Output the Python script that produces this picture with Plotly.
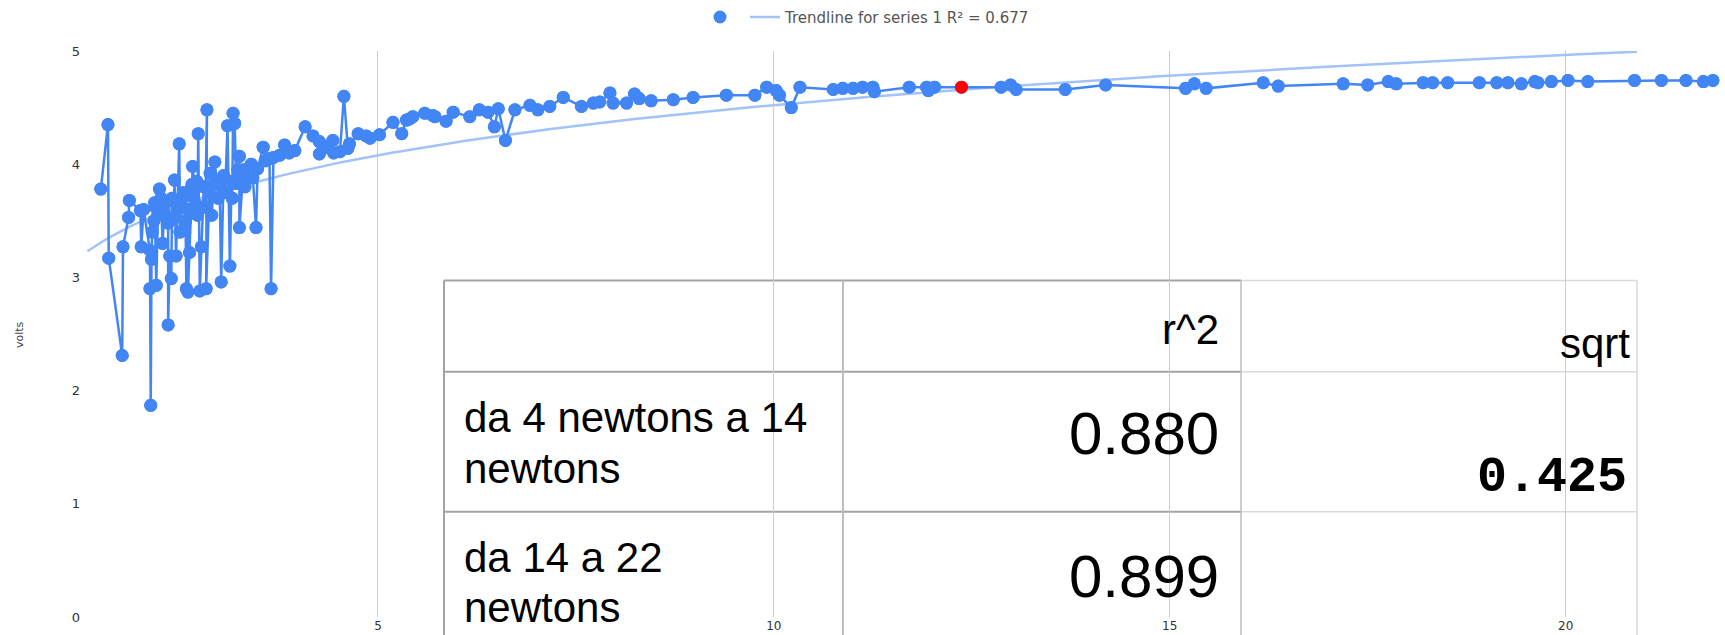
import numpy as np
import plotly.graph_objects as go

# ---------------- data ----------------
force_newtons = [
    1.50, 1.59, 1.60, 1.77, 1.78, 1.85, 1.86, 2.00, 2.01, 2.04,
    2.12, 2.13, 2.14, 2.12, 2.15, 2.17, 2.19, 2.18, 2.20, 2.22,
    2.24, 2.25, 2.26, 2.28, 2.30, 2.32, 2.35, 2.35, 2.37, 2.39,
    2.40, 2.42, 2.43, 2.45, 2.49, 2.50, 2.52, 2.53, 2.55, 2.57,
    2.58, 2.60, 2.60, 2.62, 2.64, 2.65, 2.66, 2.70, 2.71, 2.72,
    2.73, 2.75, 2.77, 2.80, 2.82, 2.84, 2.83, 2.87, 2.88, 2.90,
    2.92, 2.94, 2.98, 3.00, 3.02, 3.05, 3.07, 3.10, 3.13, 3.15,
    3.16, 3.17, 3.19, 3.21, 3.23, 3.25, 3.25, 3.30, 3.32, 3.34,
    3.40, 3.42, 3.46, 3.48, 3.55, 3.58, 3.63, 3.65, 3.68, 3.76,
    3.82, 3.88, 3.95,
    4.08, 4.18, 4.26, 4.26, 4.35, 4.43, 4.44, 4.52, 4.57, 4.62,
    4.64, 4.75, 4.85, 4.90, 5.02, 5.19, 5.30, 5.36, 5.40, 5.44,
    5.59, 5.69, 5.72, 5.86, 5.95, 6.16, 6.28, 6.39, 6.47, 6.52,
    6.61, 6.73, 6.92, 7.02, 7.17, 7.34, 7.57, 7.72, 7.80, 7.93,
    7.97, 8.14, 8.24, 8.30, 8.45, 8.73, 8.98, 9.40, 9.76, 9.91,
    10.03, 10.07, 10.22, 10.33, 10.75, 10.87, 11.00, 11.12, 11.25, 11.27,
    11.71, 11.93, 11.95, 12.03, 12.37, 12.87, 12.99, 13.06, 13.68, 14.19,
    15.20, 15.31, 15.46, 16.18, 16.37, 17.19, 17.50, 17.76, 17.86, 18.20,
    18.32, 18.51, 18.91, 19.13, 19.27, 19.44, 19.61, 19.65, 19.82, 20.03,
    20.28, 20.87, 21.21, 21.52, 21.74, 21.86,
]
volts = [
    3.78, 4.35, 3.17, 2.31, 3.27, 3.53, 3.68, 3.59, 3.27, 3.60,
    3.24, 1.87, 3.16, 2.90, 3.40, 3.50, 3.62, 3.66, 2.93, 3.55,
    3.78, 3.62, 3.70, 3.30, 3.58, 3.66, 3.48, 2.58, 3.19, 2.99,
    3.70, 3.52, 3.86, 3.19, 4.18, 3.40, 3.62, 3.70, 3.75, 3.50,
    2.90, 3.60, 2.87, 3.22, 3.72, 3.82, 3.98, 3.65, 3.85, 3.55,
    4.27, 2.88, 3.27, 3.80, 3.62, 4.48, 2.90, 3.75, 3.92, 3.55,
    3.82, 4.02, 3.70, 3.85, 2.96, 3.90, 3.75, 4.34, 3.10, 3.85,
    3.70, 4.45, 4.36, 3.83, 3.95, 4.07, 3.44, 3.95, 3.80, 3.89,
    4.00, 3.88, 3.44, 3.96, 4.15, 4.03, 4.05, 2.90, 4.06, 4.08,
    4.17, 4.10, 4.12,
    4.33, 4.25, 4.20, 4.09, 4.15, 4.21, 4.10, 4.11, 4.60, 4.14,
    4.18, 4.27, 4.25, 4.23, 4.26, 4.37, 4.27, 4.39, 4.40, 4.42,
    4.45, 4.43, 4.42, 4.38, 4.46, 4.42, 4.48, 4.46, 4.33, 4.49,
    4.21, 4.48, 4.52, 4.48, 4.51, 4.59, 4.51, 4.54, 4.55, 4.63,
    4.54, 4.54, 4.62, 4.58, 4.56, 4.57, 4.59, 4.61, 4.61, 4.68,
    4.65, 4.61, 4.50, 4.68, 4.66, 4.67, 4.67, 4.68, 4.68, 4.64,
    4.68, 4.68, 4.65, 4.68, 4.68, 4.68, 4.70, 4.66, 4.66, 4.70,
    4.67, 4.71, 4.67, 4.72, 4.69, 4.71, 4.70, 4.73, 4.71, 4.72,
    4.72, 4.72, 4.72, 4.72, 4.72, 4.71, 4.73, 4.72, 4.73, 4.74,
    4.73, 4.74, 4.74, 4.74, 4.73, 4.74,
]
highlight_newtons = 12.37          # the single point shown in red
trend_x_range = [1.33, 20.9]       # extent of the drawn trendline
trend_label = "Trendline for series 1 R² = 0.677"
x_ticks = [5, 10, 15, 20]
y_ticks = [0, 1, 2, 3, 4, 5]
y_title = "volts"

table_header = ["", "r^2", "sqrt"]
table_row_labels = [["da 4 newtons a 14", "newtons"], ["da 14 a 22", "newtons"]]
table_r2 = ["0.880", "0.899"]
table_sqrt = ["0.425", ""]

# ---------------- geometry / style ----------------
W, H = 1725, 635
L, T, R, B = 85, 47, 1, 18
PW, PH = W - L - R, H - T - B
BLUE = "#4285f4"
TREND = "#a3c2f7"


def fx(p):  # pixel x -> paper
    return (p - L) / PW


def fy(p):  # pixel y -> paper
    return (T + PH - p) / PH


x = np.array(force_newtons)
y = np.array(volts)
slope, intercept = np.polyfit(np.log(x), y, 1)
tx = np.linspace(trend_x_range[0], trend_x_range[1], 300)
ty = intercept + slope * np.log(tx)

colors = ["#ff0000" if abs(v - highlight_newtons) < 1e-9 else BLUE for v in force_newtons]

fig = go.Figure()
fig.add_trace(go.Scatter(x=x, y=y, mode="markers", name="",
                         marker=dict(size=13, color=BLUE), showlegend=True))
fig.add_trace(go.Scatter(x=tx, y=ty, mode="lines", name=trend_label,
                         line=dict(color=TREND, width=2.5), hoverinfo="skip"))
fig.add_trace(go.Scatter(x=x, y=y, mode="lines+markers", showlegend=False,
                         line=dict(color=BLUE, width=2.5),
                         marker=dict(size=13, color=colors)))

# table overlay
tx_px = [444, 843, 1241, 1637]
ty_px = [278, 370, 511]
bottom_px = 645
dark, mid, light = "#a3a3a3", "#bdbdbd", "#d9d9d9"
shapes = [dict(type="rect", xref="paper", yref="paper", layer="below",
               x0=fx(tx_px[0]), x1=fx(tx_px[3]), y0=fy(bottom_px), y1=fy(ty_px[0]),
               fillcolor="white", line=dict(width=0))]
for yy in ty_px:
    shapes.append(dict(type="line", xref="paper", yref="paper", layer="below",
                       x0=fx(tx_px[0]), x1=fx(tx_px[2]), y0=fy(yy), y1=fy(yy),
                       line=dict(color=dark, width=2)))
    shapes.append(dict(type="line", xref="paper", yref="paper", layer="below",
                       x0=fx(tx_px[2]), x1=fx(tx_px[3]), y0=fy(yy), y1=fy(yy),
                       line=dict(color=light, width=1.5)))
for xx, col, wd in zip(tx_px, [dark, mid, mid, light], [2, 2, 1.5, 1.5]):
    shapes.append(dict(type="line", xref="paper", yref="paper", layer="below",
                       x0=fx(xx), x1=fx(xx), y0=fy(bottom_px), y1=fy(ty_px[0]),
                       line=dict(color=col, width=wd)))

ann = []
SANS = "Liberation Sans, Arial, sans-serif"


def add_text(text, xp, yp, size, anchor, family=SANS, bold=False):
    t = f"<b>{text}</b>" if bold else text
    ann.append(dict(text=t, x=fx(xp), y=fy(yp), xref="paper", yref="paper",
                    xanchor=anchor, yanchor="middle", showarrow=False,
                    font=dict(family=family, size=size, color="#000000")))


add_text(table_header[1], 1221, 327, 42, "right")
add_text(table_header[2], 1632, 342, 42, "right")
row_line_y = [[416, 467], [557, 607]]
for lines, ys in zip(table_row_labels, row_line_y):
    for line, yy in zip(lines, ys):
        add_text(line, 462, yy, 42, "left")
for val, yy in zip(table_r2, [432, 576]):
    add_text(val, 1221, yy, 60, "right")
for val, yy in zip(table_sqrt, [477, 620]):
    if val:
        add_text(val, 1629, yy, 50, "right", family="Liberation Mono, Courier New, monospace", bold=True)

ann.append(dict(text=y_title, x=fx(20), y=fy(333), xref="paper", yref="paper",
                xanchor="center", yanchor="middle", showarrow=False, textangle=-90,
                font=dict(family="DejaVu Sans, Arial", size=11, color="#444444")))

fig.update_layout(
    width=W, height=H,
    margin=dict(l=L, r=R, t=T, b=B, pad=0),
    paper_bgcolor="white", plot_bgcolor="white",
    shapes=shapes, annotations=ann,
    legend=dict(orientation="h", x=fx(700), xanchor="left", y=fy(13), yanchor="middle",
                font=dict(family="DejaVu Sans, Arial", size=15, color="#555555"),
                bgcolor="rgba(0,0,0,0)"),
    xaxis=dict(range=[1.3, 22.0], tickvals=x_ticks, showgrid=True, gridcolor="#cccccc",
               gridwidth=1, zeroline=False, showline=False, ticks="",
               tickfont=dict(family="DejaVu Sans, Arial", size=12, color="#333333")),
    yaxis=dict(range=[0, 5], tickvals=y_ticks, showgrid=False, zeroline=False,
               showline=False, ticks="", ticklabelstandoff=4,
               tickfont=dict(family="DejaVu Sans, Arial", size=13, color="#333333")),
)

fig.write_html("out.html", config={"displayModeBar": False},
               post_script="document.body.style.margin='0px';document.body.style.overflow='hidden';")
